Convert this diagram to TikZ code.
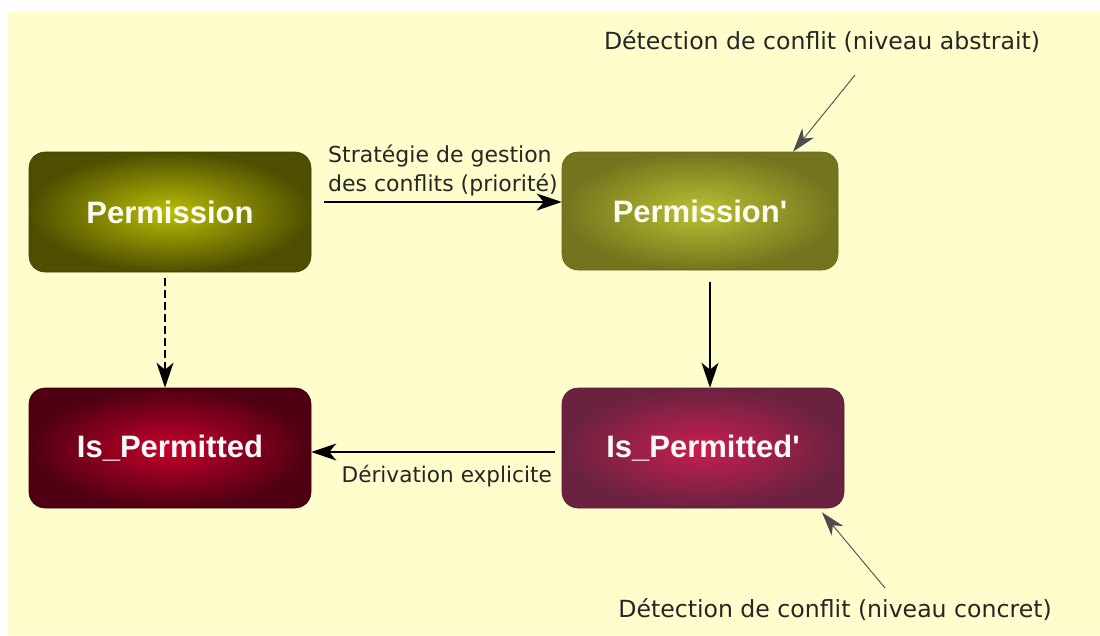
\documentclass[tikz,border=0pt]{standalone}
\usepackage{fontspec}
\setmainfont{DejaVu Sans}
\newfontfamily\boxfont{Liberation Sans}
\usetikzlibrary{arrows.meta}

\definecolor{paper}{HTML}{FFFDCC}
\definecolor{oliveIn}{HTML}{BABE06}
\definecolor{oliveOut}{HTML}{4E4E00}
\definecolor{olive2In}{HTML}{B9C232}
\definecolor{olive2Out}{HTML}{74741E}
\definecolor{redIn}{HTML}{C6002C}
\definecolor{redOut}{HTML}{4E0012}
\definecolor{red2In}{HTML}{C81E50}
\definecolor{red2Out}{HTML}{6A2240}

\tikzset{
  statebox/.style={rounded corners=16pt, minimum width=282pt, minimum height=120pt,
    shading=radial, font=\boxfont\bfseries\fontsize{31}{36}\selectfont, inner sep=0pt},
  olivebox/.style={statebox, inner color=oliveIn, outer color=oliveOut, text=white!95!yellow,
    draw=oliveOut!80!black, line width=0.6pt},
  olivebox2/.style={statebox, inner color=olive2In, outer color=olive2Out, text=white!95!yellow,
    draw=olive2Out!85!black, line width=0.6pt},
  redbox/.style={statebox, inner color=redIn, outer color=redOut, text=white!92!pink,
    draw=redOut!80!black, line width=0.6pt},
  redbox2/.style={statebox, inner color=red2In, outer color=red2Out, text=white!92!pink,
    draw=red2Out!85!black, line width=0.6pt},
  lbl/.style={text=black!85, inner sep=0pt},
  flow/.style={line width=1.3pt, -{Stealth[length=25pt,width=17pt,inset=7pt]}},
  hint/.style={line width=0.9pt, draw=black!70, -{Stealth[length=24pt,width=15pt,inset=7pt]}}
}

\begin{document}
\begin{tikzpicture}[x=1pt, y=-1pt]
  % canvas with a white margin on the left and top
  \useasboundingbox (0,0) rectangle (1100,635);
  \fill[white] (0,0) rectangle (1100,635);
  \fill[paper] (8,12) rectangle (1100,635);

  % states
  \node[olivebox]  (P)   at (170,212) {Permission};
  \node[olivebox2, minimum width=276pt, minimum height=118pt] (Pp) at (700,211) {Permission'};
  \node[redbox]    (IP)  at (170,448) {Is\_Permitted};
  \node[redbox2]   (IPp) at (703,448) {Is\_Permitted'};

  % transitions
  \draw[flow] ([xshift=13pt,yshift=10pt]P.east) -- ([yshift=10pt]P.east -| Pp.west);
  \node[lbl, font=\fontsize{22}{29}\selectfont, anchor=south west, align=left] (strat) at (328,196)
    {Stratégie de gestion\\des conflits (priorité)};

  \draw[flow, dashed, dash pattern=on 8pt off 4pt] ([xshift=-5pt,yshift=-6pt]P.south) -- ([xshift=-5pt]IP.north);
  \draw[flow] ([xshift=10pt,yshift=-12pt]Pp.south) -- ([xshift=7pt]IPp.north);

  \draw[flow] ([xshift=-7pt,yshift=-4pt]IPp.west) -- ([yshift=-4pt]IPp.west -| IP.east);
  \node[lbl, font=\fontsize{21.6}{27}\selectfont, anchor=base east] (deriv) at (552,482) {Dérivation explicite};

  % conflict detection notes
  \node[lbl, font=\fontsize{23.6}{29}\selectfont, anchor=base] (abs) at (822,49)
    {Détection de conflit (niveau abstrait)};
  \coordinate (absTail) at (855,75);
  \draw[hint] (absTail) -- ([xshift=93pt]Pp.north);

  \node[lbl, font=\fontsize{23.6}{29}\selectfont, anchor=base] (conc) at (835,617)
    {Détection de conflit (niveau concret)};
  \coordinate (concTail) at (885,588);
  \draw[hint] (concTail) -- ([xshift=119pt,yshift=-4pt]IPp.south);
\end{tikzpicture}
\end{document}
